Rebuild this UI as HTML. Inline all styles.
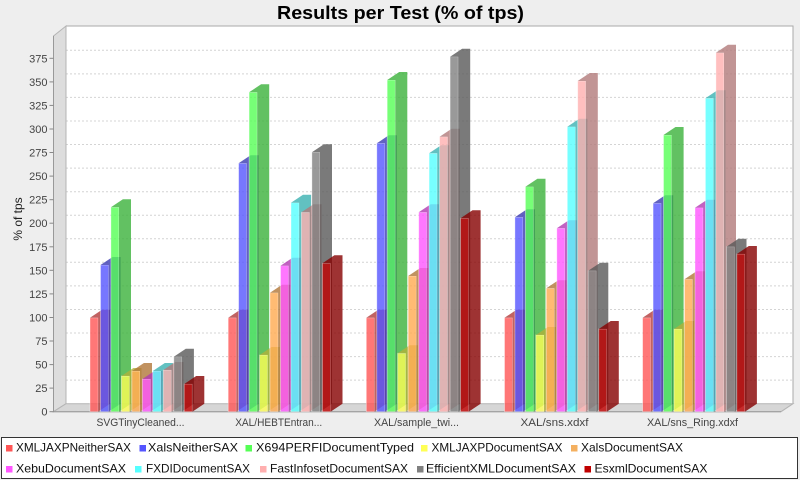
<!DOCTYPE html>
<html><head><meta charset="utf-8"><style>
html,body{margin:0;padding:0;background:#eeeeee;}
svg{display:block;font-family:"Liberation Sans","DejaVu Sans",sans-serif;}
.a0{fill:#ff5555}.b0{fill:#b23b3b}
.a1{fill:#5555ff}.b1{fill:#3b3bb2}
.a2{fill:#55ff55}.b2{fill:#3bb23b}
.a3{fill:#ffff55}.b3{fill:#b2b23b}
.a4{fill:#ffaa50}.b4{fill:#b27738}
.a5{fill:#ff55ff}.b5{fill:#b23bb2}
.a6{fill:#55ffff}.b6{fill:#3bb2b2}
.a7{fill:#ffafaf}.b7{fill:#b27a7a}
.a8{fill:#808080}.b8{fill:#595959}
.a9{fill:#c00000}.b9{fill:#860000}
.bars rect{fill-opacity:.8;stroke:#fff;stroke-opacity:.45;stroke-width:.8}
.bars path{fill-opacity:.8}
.tk{font-size:11px;fill:#444;text-anchor:end}
.cl{font-size:11px;fill:#444;text-anchor:middle}
.lg{font-size:12px;fill:#111}
</style></head><body>
<svg width="800" height="480" viewBox="0 0 800 480" xmlns="http://www.w3.org/2000/svg">
<rect x="0" y="0" width="800" height="480" fill="#eeeeee"/>
<text x="277" y="19" font-size="18" font-weight="bold" fill="#000" textLength="247" lengthAdjust="spacingAndGlyphs">Results per Test (% of tps)</text>

<!-- back wall -->
<rect x="66" y="26" width="727" height="377.7" fill="#ffffff"/>
<!-- gridlines -->
<g stroke="#d4d4d4" stroke-width="1" stroke-dasharray="2,2">
<line x1="66" x2="793" y1="380.1" y2="380.1"/>
<line x1="66" x2="793" y1="356.6" y2="356.6"/>
<line x1="66" x2="793" y1="333.0" y2="333.0"/>
<line x1="66" x2="793" y1="309.5" y2="309.5"/>
<line x1="66" x2="793" y1="285.9" y2="285.9"/>
<line x1="66" x2="793" y1="262.3" y2="262.3"/>
<line x1="66" x2="793" y1="238.8" y2="238.8"/>
<line x1="66" x2="793" y1="215.2" y2="215.2"/>
<line x1="66" x2="793" y1="191.7" y2="191.7"/>
<line x1="66" x2="793" y1="168.1" y2="168.1"/>
<line x1="66" x2="793" y1="144.5" y2="144.5"/>
<line x1="66" x2="793" y1="121.0" y2="121.0"/>
<line x1="66" x2="793" y1="97.4" y2="97.4"/>
<line x1="66" x2="793" y1="73.9" y2="73.9"/>
<line x1="66" x2="793" y1="50.3" y2="50.3"/>
</g>
<polyline points="66,26 793,26 793,403.7" fill="none" stroke="#aaaaaa" stroke-width="1"/>
<!-- left wall & floor -->
<polygon points="53.5,36 66,26 66,403.7 53.5,411.7" fill="#dddddd" stroke="#b4b4b4" stroke-width="1"/>
<polygon points="53.5,411.7 66,403.7 793,403.7 781,411.7" fill="#d6d6d6" stroke="#b4b4b4" stroke-width="1"/>

<!-- axes -->
<line x1="53.5" y1="36" x2="53.5" y2="411.7" stroke="#999" stroke-width="1"/>
<line x1="53.5" y1="411.7" x2="781" y2="411.7" stroke="#999" stroke-width="1"/>
<g stroke="#888" stroke-width="1">
<line x1="49.5" x2="53.5" y1="411.7" y2="411.7"/>
<line x1="49.5" x2="53.5" y1="388.1" y2="388.1"/>
<line x1="49.5" x2="53.5" y1="364.6" y2="364.6"/>
<line x1="49.5" x2="53.5" y1="341.0" y2="341.0"/>
<line x1="49.5" x2="53.5" y1="317.5" y2="317.5"/>
<line x1="49.5" x2="53.5" y1="293.9" y2="293.9"/>
<line x1="49.5" x2="53.5" y1="270.3" y2="270.3"/>
<line x1="49.5" x2="53.5" y1="246.8" y2="246.8"/>
<line x1="49.5" x2="53.5" y1="223.2" y2="223.2"/>
<line x1="49.5" x2="53.5" y1="199.7" y2="199.7"/>
<line x1="49.5" x2="53.5" y1="176.1" y2="176.1"/>
<line x1="49.5" x2="53.5" y1="152.5" y2="152.5"/>
<line x1="49.5" x2="53.5" y1="129.0" y2="129.0"/>
<line x1="49.5" x2="53.5" y1="105.4" y2="105.4"/>
<line x1="49.5" x2="53.5" y1="81.9" y2="81.9"/>
<line x1="49.5" x2="53.5" y1="58.3" y2="58.3"/>
</g>
<text class="tk" x="47.5" y="415.7">0</text>
<text class="tk" x="47.5" y="392.1">25</text>
<text class="tk" x="47.5" y="368.6">50</text>
<text class="tk" x="47.5" y="345.0">75</text>
<text class="tk" x="47.5" y="321.5">100</text>
<text class="tk" x="47.5" y="297.9">125</text>
<text class="tk" x="47.5" y="274.3">150</text>
<text class="tk" x="47.5" y="250.8">175</text>
<text class="tk" x="47.5" y="227.2">200</text>
<text class="tk" x="47.5" y="203.7">225</text>
<text class="tk" x="47.5" y="180.1">250</text>
<text class="tk" x="47.5" y="156.5">275</text>
<text class="tk" x="47.5" y="133.0">300</text>
<text class="tk" x="47.5" y="109.4">325</text>
<text class="tk" x="47.5" y="85.9">350</text>
<text class="tk" x="47.5" y="62.3">375</text>
<text transform="translate(22,219) rotate(-90)" text-anchor="middle" font-size="12" fill="#222">% of tps</text>

<!-- bars -->
<g class="bars">
<!-- cat 0 -->
<rect class="a0" x="90" y="317.8" width="8.1" height="93.9"/><path class="b0" d="M90 317.8l12-8h8.1V403.7l-12 8V317.8Z"/>
<rect class="a1" x="100.5" y="265" width="8.1" height="146.7"/><path class="b1" d="M100.5 265l12-8h8.1V403.7l-12 8V265Z"/>
<rect class="a2" x="110.9" y="207.3" width="8.1" height="204.4"/><path class="b2" d="M110.9 207.3l12-8h8.1V403.7l-12 8V207.3Z"/>
<rect class="a3" x="121.4" y="376" width="8.1" height="35.7"/><path class="b3" d="M121.4 376l12-8h8.1V403.7l-12 8V376Z"/>
<rect class="a4" x="131.9" y="371" width="8.1" height="40.7"/><path class="b4" d="M131.9 371l12-8h8.1V403.7l-12 8V371Z"/>
<rect class="a5" x="142.4" y="379" width="8.1" height="32.7"/><path class="b5" d="M142.4 379l12-8h8.1V403.7l-12 8V379Z"/>
<rect class="a6" x="152.8" y="371" width="8.1" height="40.7"/><path class="b6" d="M152.8 371l12-8h8.1V403.7l-12 8V371Z"/>
<rect class="a7" x="163.3" y="370" width="8.1" height="41.7"/><path class="b7" d="M163.3 370l12-8h8.1V403.7l-12 8V370Z"/>
<rect class="a8" x="173.8" y="356.7" width="8.1" height="55"/><path class="b8" d="M173.8 356.7l12-8h8.1V403.7l-12 8V356.7Z"/>
<rect class="a9" x="184.2" y="384" width="8.1" height="27.7"/><path class="b9" d="M184.2 384l12-8h8.1V403.7l-12 8V384Z"/>
<!-- cat 1 -->
<rect class="a0" x="228.2" y="317.8" width="8.1" height="93.9"/><path class="b0" d="M228.2 317.8l12-8h8.1V403.7l-12 8V317.8Z"/>
<rect class="a1" x="238.6" y="163.3" width="8.1" height="248.4"/><path class="b1" d="M238.6 163.3l12-8h8.1V403.7l-12 8V163.3Z"/>
<rect class="a2" x="249.1" y="92.3" width="8.1" height="319.4"/><path class="b2" d="M249.1 92.3l12-8h8.1V403.7l-12 8V92.3Z"/>
<rect class="a3" x="259.6" y="355" width="8.1" height="56.7"/><path class="b3" d="M259.6 355l12-8h8.1V403.7l-12 8V355Z"/>
<rect class="a4" x="270" y="292.7" width="8.1" height="119"/><path class="b4" d="M270 292.7l12-8h8.1V403.7l-12 8V292.7Z"/>
<rect class="a5" x="280.5" y="265.7" width="8.1" height="146"/><path class="b5" d="M280.5 265.7l12-8h8.1V403.7l-12 8V265.7Z"/>
<rect class="a6" x="291" y="202.7" width="8.1" height="209"/><path class="b6" d="M291 202.7l12-8h8.1V403.7l-12 8V202.7Z"/>
<rect class="a7" x="301.4" y="212.3" width="8.1" height="199.4"/><path class="b7" d="M301.4 212.3l12-8h8.1V403.7l-12 8V212.3Z"/>
<rect class="a8" x="311.9" y="152.3" width="8.1" height="259.4"/><path class="b8" d="M311.9 152.3l12-8h8.1V403.7l-12 8V152.3Z"/>
<rect class="a9" x="322.4" y="263.3" width="8.1" height="148.4"/><path class="b9" d="M322.4 263.3l12-8h8.1V403.7l-12 8V263.3Z"/>
<!-- cat 2 -->
<rect class="a0" x="366.3" y="317.8" width="8.1" height="93.9"/><path class="b0" d="M366.3 317.8l12-8h8.1V403.7l-12 8V317.8Z"/>
<rect class="a1" x="376.8" y="143.3" width="8.1" height="268.4"/><path class="b1" d="M376.8 143.3l12-8h8.1V403.7l-12 8V143.3Z"/>
<rect class="a2" x="387.2" y="80" width="8.1" height="331.7"/><path class="b2" d="M387.2 80l12-8h8.1V403.7l-12 8V80Z"/>
<rect class="a3" x="397.7" y="353.3" width="8.1" height="58.4"/><path class="b3" d="M397.7 353.3l12-8h8.1V403.7l-12 8V353.3Z"/>
<rect class="a4" x="408.2" y="276" width="8.1" height="135.7"/><path class="b4" d="M408.2 276l12-8h8.1V403.7l-12 8V276Z"/>
<rect class="a5" x="418.7" y="212.3" width="8.1" height="199.4"/><path class="b5" d="M418.7 212.3l12-8h8.1V403.7l-12 8V212.3Z"/>
<rect class="a6" x="429.1" y="153.3" width="8.1" height="258.4"/><path class="b6" d="M429.1 153.3l12-8h8.1V403.7l-12 8V153.3Z"/>
<rect class="a7" x="439.6" y="136.7" width="8.1" height="275"/><path class="b7" d="M439.6 136.7l12-8h8.1V403.7l-12 8V136.7Z"/>
<rect class="a8" x="450.1" y="56.7" width="8.1" height="355"/><path class="b8" d="M450.1 56.7l12-8h8.1V403.7l-12 8V56.7Z"/>
<rect class="a9" x="460.5" y="218.3" width="8.1" height="193.4"/><path class="b9" d="M460.5 218.3l12-8h8.1V403.7l-12 8V218.3Z"/>
<!-- cat 3 -->
<rect class="a0" x="504.5" y="317.8" width="8.1" height="93.9"/><path class="b0" d="M504.5 317.8l12-8h8.1V403.7l-12 8V317.8Z"/>
<rect class="a1" x="514.9" y="217.3" width="8.1" height="194.4"/><path class="b1" d="M514.9 217.3l12-8h8.1V403.7l-12 8V217.3Z"/>
<rect class="a2" x="525.4" y="186.7" width="8.1" height="225"/><path class="b2" d="M525.4 186.7l12-8h8.1V403.7l-12 8V186.7Z"/>
<rect class="a3" x="535.9" y="335" width="8.1" height="76.7"/><path class="b3" d="M535.9 335l12-8h8.1V403.7l-12 8V335Z"/>
<rect class="a4" x="546.3" y="288.3" width="8.1" height="123.4"/><path class="b4" d="M546.3 288.3l12-8h8.1V403.7l-12 8V288.3Z"/>
<rect class="a5" x="556.8" y="228.3" width="8.1" height="183.4"/><path class="b5" d="M556.8 228.3l12-8h8.1V403.7l-12 8V228.3Z"/>
<rect class="a6" x="567.3" y="126.7" width="8.1" height="285"/><path class="b6" d="M567.3 126.7l12-8h8.1V403.7l-12 8V126.7Z"/>
<rect class="a7" x="577.7" y="81" width="8.1" height="330.7"/><path class="b7" d="M577.7 81l12-8h8.1V403.7l-12 8V81Z"/>
<rect class="a8" x="588.2" y="270.7" width="8.1" height="141"/><path class="b8" d="M588.2 270.7l12-8h8.1V403.7l-12 8V270.7Z"/>
<rect class="a9" x="598.7" y="329" width="8.1" height="82.7"/><path class="b9" d="M598.7 329l12-8h8.1V403.7l-12 8V329Z"/>
<!-- cat 4 -->
<rect class="a0" x="642.6" y="317.8" width="8.1" height="93.9"/><path class="b0" d="M642.6 317.8l12-8h8.1V403.7l-12 8V317.8Z"/>
<rect class="a1" x="653.1" y="203.3" width="8.1" height="208.4"/><path class="b1" d="M653.1 203.3l12-8h8.1V403.7l-12 8V203.3Z"/>
<rect class="a2" x="663.5" y="135" width="8.1" height="276.7"/><path class="b2" d="M663.5 135l12-8h8.1V403.7l-12 8V135Z"/>
<rect class="a3" x="674" y="329" width="8.1" height="82.7"/><path class="b3" d="M674 329l12-8h8.1V403.7l-12 8V329Z"/>
<rect class="a4" x="684.5" y="279.3" width="8.1" height="132.4"/><path class="b4" d="M684.5 279.3l12-8h8.1V403.7l-12 8V279.3Z"/>
<rect class="a5" x="695" y="207.7" width="8.1" height="204"/><path class="b5" d="M695 207.7l12-8h8.1V403.7l-12 8V207.7Z"/>
<rect class="a6" x="705.4" y="98.3" width="8.1" height="313.4"/><path class="b6" d="M705.4 98.3l12-8h8.1V403.7l-12 8V98.3Z"/>
<rect class="a7" x="715.9" y="52.7" width="8.1" height="359"/><path class="b7" d="M715.9 52.7l12-8h8.1V403.7l-12 8V52.7Z"/>
<rect class="a8" x="726.4" y="246.7" width="8.1" height="165"/><path class="b8" d="M726.4 246.7l12-8h8.1V403.7l-12 8V246.7Z"/>
<rect class="a9" x="736.8" y="254" width="8.1" height="157.7"/><path class="b9" d="M736.8 254l12-8h8.1V403.7l-12 8V254Z"/>
</g>

<!-- category labels -->
<text class="cl" x="140.5" y="426" textLength="88" lengthAdjust="spacingAndGlyphs">SVGTinyCleaned...</text>
<text class="cl" x="278.7" y="426" textLength="87" lengthAdjust="spacingAndGlyphs">XAL/HEBTEntran...</text>
<text class="cl" x="416.5" y="426" textLength="85" lengthAdjust="spacingAndGlyphs">XAL/sample_twi...</text>
<text class="cl" x="554.5" y="426" textLength="68" lengthAdjust="spacingAndGlyphs">XAL/sns.xdxf</text>
<text class="cl" x="692.5" y="426" textLength="91" lengthAdjust="spacingAndGlyphs">XAL/sns_Ring.xdxf</text>

<!-- legend -->
<rect x="1.5" y="437.5" width="796" height="41" fill="#ffffff" stroke="#333" stroke-width="1"/>
<rect x="6" y="445" width="6.5" height="6.5" fill="#ff5555"/>
<text class="lg" x="16" y="451.5" textLength="115" lengthAdjust="spacingAndGlyphs">XMLJAXPNeitherSAX</text>
<rect x="139.5" y="445" width="6.5" height="6.5" fill="#5555ff"/>
<text class="lg" x="148" y="451.5" textLength="90" lengthAdjust="spacingAndGlyphs">XalsNeitherSAX</text>
<rect x="245.5" y="445" width="6.5" height="6.5" fill="#55ff55"/>
<text class="lg" x="256" y="451.5" textLength="158" lengthAdjust="spacingAndGlyphs">X694PERFIDocumentTyped</text>
<rect x="421" y="445" width="6.5" height="6.5" fill="#ffff55"/>
<text class="lg" x="431.5" y="451.5" textLength="131" lengthAdjust="spacingAndGlyphs">XMLJAXPDocumentSAX</text>
<rect x="571" y="445" width="6.5" height="6.5" fill="#f4b060"/>
<text class="lg" x="581" y="451.5" textLength="102" lengthAdjust="spacingAndGlyphs">XalsDocumentSAX</text>

<rect x="6" y="466" width="6.5" height="6.5" fill="#ff55ff"/>
<text class="lg" x="16" y="472.5" textLength="110" lengthAdjust="spacingAndGlyphs">XebuDocumentSAX</text>
<rect x="135" y="466" width="6.5" height="6.5" fill="#55ffff"/>
<text class="lg" x="146" y="472.5" textLength="104" lengthAdjust="spacingAndGlyphs">FXDIDocumentSAX</text>
<rect x="260" y="466" width="6.5" height="6.5" fill="#ffafaf"/>
<text class="lg" x="270" y="472.5" textLength="138" lengthAdjust="spacingAndGlyphs">FastInfosetDocumentSAX</text>
<rect x="417" y="466" width="6.5" height="6.5" fill="#808080"/>
<text class="lg" x="426" y="472.5" textLength="150" lengthAdjust="spacingAndGlyphs">EfficientXMLDocumentSAX</text>
<rect x="584.5" y="466" width="6.5" height="6.5" fill="#c00000"/>
<text class="lg" x="594.5" y="472.5" textLength="113" lengthAdjust="spacingAndGlyphs">EsxmlDocumentSAX</text>
</svg>
</body></html>
